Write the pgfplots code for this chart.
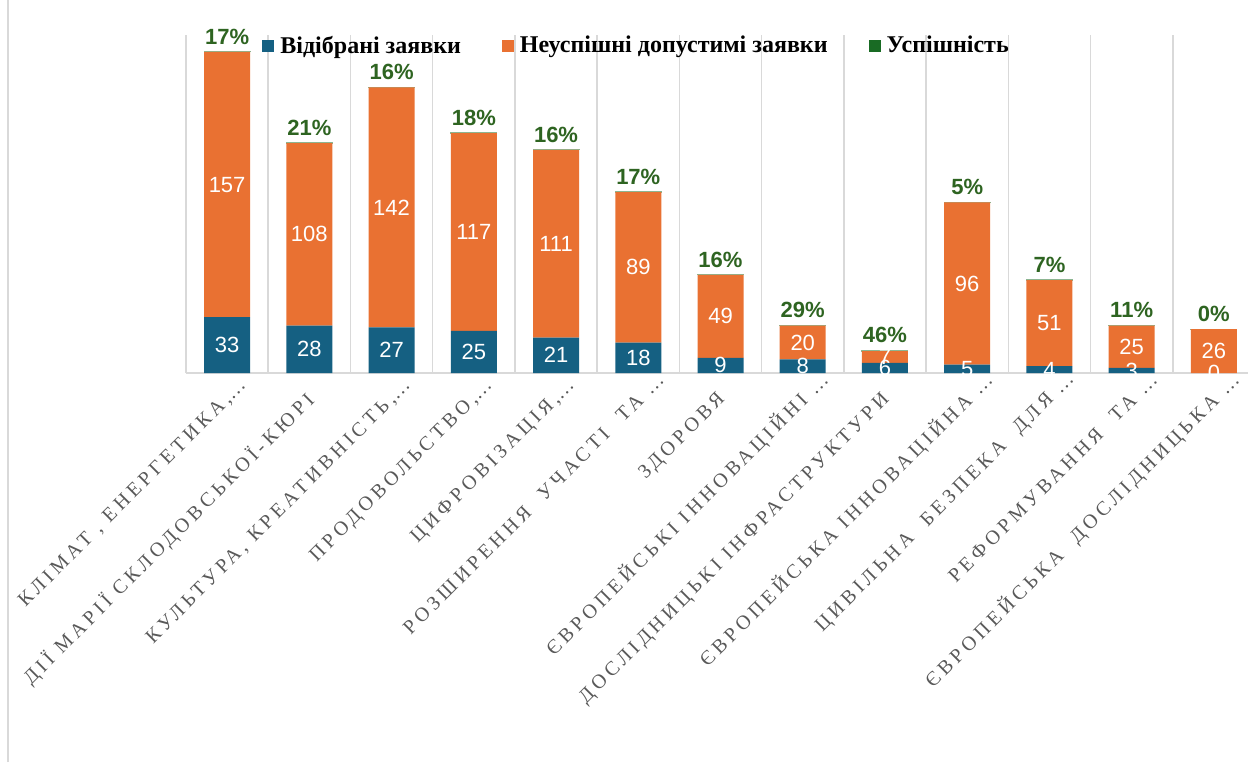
\documentclass[border=0pt]{standalone}
\usepackage{pgfplots}
\pgfplotsset{compat=1.18}
\usepackage{pgfplotstable}
\usepackage{fontspec}
\setmainfont{Liberation Serif}
\newfontfamily\lsans{Liberation Sans}
\newfontfamily\tickfont[LetterSpace=20]{Liberation Serif}
\definecolor{cblue}{HTML}{156082}
\definecolor{corange}{HTML}{E97132}
\definecolor{cgreen}{HTML}{196B24}
\definecolor{clab}{HTML}{2E6421}
\definecolor{cgrid}{HTML}{D9D9D9}
\definecolor{ctick}{HTML}{595959}

\pgfplotstableread{
x sel fail succ pct
0 33 157 0.17 17
1 28 108 0.21 21
2 27 142 0.16 16
3 25 117 0.18 18
4 21 111 0.16 16
5 18 89 0.17 17
6 9 49 0.16 16
7 8 20 0.29 29
8 6 7 0.46 46
9 5 96 0.05 5
10 4 51 0.07 7
11 3 25 0.11 11
12 0 26 0.001 0
}\data

\begin{document}
\begin{tikzpicture}
\draw[cgrid, line width=1pt] (4pt,0pt) -- (4pt,381pt);
\begin{axis}[
  at={(93pt,194.5pt)}, anchor=south west,
  width=534.5pt, height=169pt, scale only axis,
  ybar stacked, bar width=23pt,
  xmin=-0.5, xmax=12.5, ymin=0, ymax=200,
  axis x line*=bottom, axis y line=none,
  x axis line style={cgrid, line width=1pt},
  ytick=\empty,
  xtick={0,...,12},
  major tick length=0pt,
  minor xtick={-0.5,0.5,...,12.5},
  minor tick length=0pt,
  xminorgrids=true,
  minor grid style={cgrid, line width=0.75pt},
  xticklabels={
    {КЛІМАТ , ЕНЕРГЕТИКА,\rlap{…}},
    {ДІЇ МАРІЇ СКЛОДОВСЬКОЇ-КЮРІ},
    {КУЛЬТУРА, КРЕАТИВНІСТЬ,\rlap{…}},
    {ПРОДОВОЛЬСТВО,\rlap{…}},
    {ЦИФРОВІЗАЦІЯ,\rlap{…}},
    {РОЗШИРЕННЯ\ \ УЧАСТІ\ \ ТА\rlap{ …}},
    {ЗДОРОВЯ},
    {ЄВРОПЕЙСЬКІ ІННОВАЦІЙНІ\rlap{ …}},
    {ДОСЛІДНИЦЬКІ ІНФРАСТРУКТУРИ},
    {ЄВРОПЕЙСЬКА ІННОВАЦІЙНА\rlap{ …}},
    {ЦИВІЛЬНА\ \ БЕЗПЕКА\ \ ДЛЯ\rlap{ …}},
    {РЕФОРМУВАННЯ\ \ ТА\rlap{ …}},
    {ЄВРОПЕЙСЬКА\ \ ДОСЛІДНИЦЬКА\rlap{ …}}
  },
  xticklabel style={font=\tickfont\fontsize{10}{12}\selectfont, text=ctick, yshift=-12pt, xshift=1pt, rotate=45, anchor=east, inner sep=0pt},
  clip=false,
  legend columns=3,
  legend image code/.code={\fill[#1, draw=none] (0pt,-3pt) rectangle (6pt,3pt);},
  legend style={at={(0.0711,0.967)}, anchor=west, draw=none, fill=none, inner sep=0pt,
     font=\bfseries\fontsize{12}{14}\selectfont,
     nodes={inner sep=0pt},
     /tikz/every odd column/.append style={column sep=3pt},
     /tikz/every even column/.append style={column sep=20.5pt}},
]
\addplot[fill=cblue, draw=none] table[x=x,y=sel]{\data};
\addlegendentry{Відібрані заявки}
\addplot[fill=corange, draw=none] table[x=x,y=fail]{\data};
\addlegendentry{Неуспішні допустимі заявки}
\addplot[fill=cgreen, draw=cgreen!50, line width=0.5pt,
  nodes near coords={\pgfplotspointmeta\%}, point meta=explicit symbolic,
  every node near coord/.append style={anchor=south, inner sep=0pt, yshift=3.5pt, font=\lsans\bfseries\fontsize{11}{13}\selectfont, text=clab}]
  table[x=x,y=succ,meta=pct]{\data};
\addlegendentry{Успішність}
\end{axis}
\begin{axis}[
  at={(93pt,194.5pt)}, anchor=south west,
  width=534.5pt, height=169pt, scale only axis,
  xmin=-0.5, xmax=12.5, ymin=0, ymax=200,
  hide axis, clip marker paths=true,
  nodes near coords={\pgfplotspointmeta},
  point meta=explicit symbolic,
  every node near coord/.append style={anchor=center, text=white, font=\lsans\fontsize{11}{13}\selectfont},
]
\addplot[draw=none, mark=none] table[x=x, y expr=\thisrow{sel}/2, meta=sel]{\data};
\addplot[draw=none, mark=none] table[x=x, y expr=\thisrow{sel}+\thisrow{fail}/2, meta=fail]{\data};
\end{axis}
\pgfresetboundingbox
\useasboundingbox (0,0) rectangle (624pt,381pt);
\end{tikzpicture}
\end{document}
